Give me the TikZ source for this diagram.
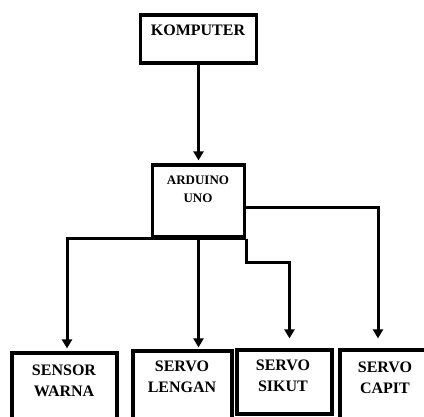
\documentclass[tikz,border=0pt]{standalone}
\usepackage{fontspec}
\setmainfont{Liberation Serif}
\usetikzlibrary{arrows.meta}
\tikzset{
  blk/.style={draw=black, line width=3.2pt, fill=white, inner sep=0pt},
  conn/.style={line width=3pt, -{Triangle[width=10pt,length=9pt]}},
  plain/.style={line width=3pt},
  lbl/.style={font=\fontsize{16}{21}\selectfont\bfseries, align=center, inner sep=0pt},
  slbl/.style={font=\fontsize{13}{18}\selectfont\bfseries, align=center, inner sep=0pt}
}
\begin{document}
\begin{tikzpicture}[x=1pt,y=-1pt]
\useasboundingbox (0,0) rectangle (424,416);
\clip (0,0) rectangle (424,416);
% boxes
\node[blk, minimum width=116pt, minimum height=48pt] (komp) at (198.5,39) {};
\node[blk, minimum width=92pt, minimum height=72pt] (ard) at (198.5,201) {};
\node[blk, minimum width=105pt, minimum height=80pt] (sens) at (64.5,393) {};
\node[blk, minimum width=99pt, minimum height=80pt] (leng) at (182.5,391) {};
\node[blk, minimum width=95pt, minimum height=64pt] (sik) at (284.5,382) {};
\node[blk, minimum width=90pt, minimum height=80pt] (cap) at (385,390) {};
% labels
\node[lbl] (tkomp) at (198,30) {KOMPUTER};
\node[slbl] (tard) at (198,189) {ARDUINO\\UNO};
\node[lbl] (tsens) at (64,381) {SENSOR\\WARNA};
\node[lbl] (tleng) at (182,377) {SERVO\\LENGAN};
\node[lbl] (tsik) at (283,376) {SERVO\\SIKUT};
\node[lbl] (tcap) at (385,378) {SERVO\\CAPIT};
% connectors
\draw[conn, shorten >=3pt] (komp.south) -- (ard.north);
\draw[plain] (ard.south west) -- (ard.south east);
\draw[conn, shorten >=3pt] (ard.south west) -| ([xshift=2.5pt]sens.north);
\draw[conn, shorten >=2pt] (ard.south) -- (ard.south |- leng.north);
\draw[conn, shorten >=10pt] (ard.south east) -- ++(0,24) -| ([xshift=5pt]sik.north);
\draw[conn, shorten >=10pt] ([yshift=-6pt]ard.east) -| ([xshift=-7pt]cap.north);
\end{tikzpicture}
\end{document}
